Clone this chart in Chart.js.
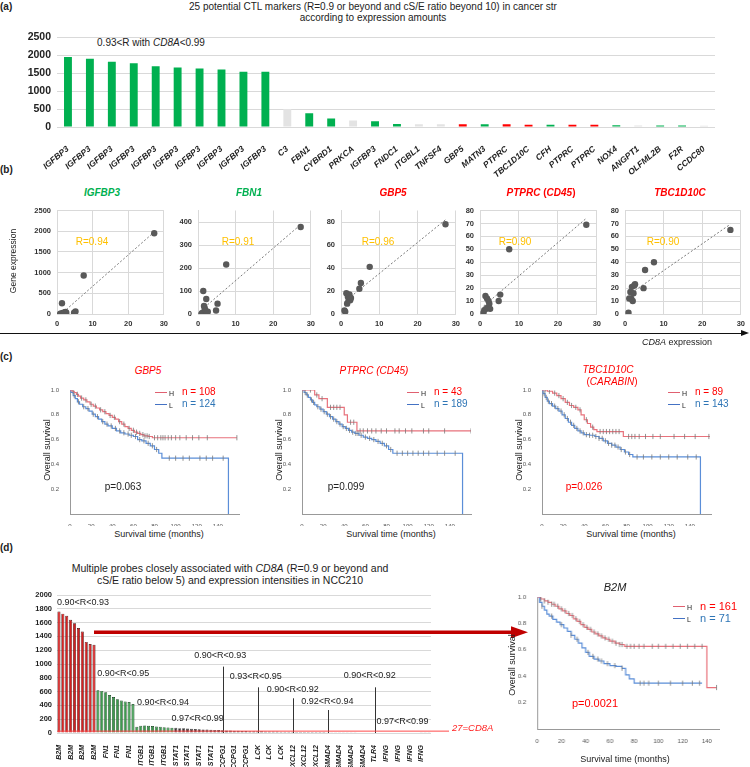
<!DOCTYPE html>
<html>
<head>
<meta charset="utf-8">
<title>CTL markers and CD8A</title>
<script src="https://cdn.jsdelivr.net/npm/chart.js@4.4.1/dist/chart.umd.min.js"></script>
<style>
  body { margin: 0; background: #fff; }
  #fig { position: relative; width: 750px; height: 767px; overflow: hidden;
         font-family: "Liberation Sans", Arial, sans-serif; color: #222; }
  #fig canvas { position: absolute; }
  .t { position: absolute; white-space: nowrap; line-height: 1; }
  .b { font-weight: bold; }
  .i { font-style: italic; }
  .red { color: #ff0000; }
  .grn { color: #00b050; }
  .blu { color: #2e75b6; }
</style>
</head>
<body>
<div id="fig"></div>
<script>
// ---------- (a) potential CTL markers ----------
const aGenes = ["IGFBP3", "IGFBP3", "IGFBP3", "IGFBP3", "IGFBP3", "IGFBP3", "IGFBP3", "IGFBP3", "IGFBP3", "IGFBP3",
  "C3", "FBN1", "CYBRD1", "PRKCA", "IGFBP3", "FNDC1", "ITGBL1", "TNFSF4", "GBP5", "MATN3",
  "PTPRC", "TBC1D10C", "CFH", "PTPRC", "PTPRC", "NOX4", "ANGPT1", "OLFML2B", "F2R", "CCDC80"];
const aValues = [1950, 1900, 1820, 1780, 1690, 1660, 1630, 1600, 1540, 1540,
  500, 380, 240, 180, 160, 85, 80, 75, 80, 75,
  80, 65, 60, 60, 60, 50, 40, 45, 45, 35];
const aRedGenes = ["GBP5", "PTPRC", "TBC1D10C"];
const aGreyGenes = ["C3", "PRKCA", "ITGBL1", "TNFSF4", "ANGPT1", "CCDC80"];

// ---------- (b) gene expression vs CD8A ----------
const bGenes = ["IGFBP3", "FBN1", "GBP5", "PTPRC", "TBC1D10C"];
const bCd8a = [0.9, 1.1, 1.4, 1.6, 1.8, 2.0, 2.2, 2.4, 2.6, 4.8, 5.2, 7.5, 27.3];
const bIGFBP3 = [10, 5, 260, 20, 30, 25, 40, 50, 30, 30, 60, 930, 1950];
const bFBN1 = [0, 5, 100, 35, 25, 15, 65, 5, 10, 15, 45, 215, 378];
const bGBP5 = [3, 2, 18, 9, 15, 12, 17, 12, 14, 22, 27, 41, 78];
const bPTPRC = [1, 3, 14, 4, 12, 5, 10, 8, 4, 10, 15, 50, 69];
const bTBC1D10C = [1, 12, 17, 12, 21, 10, 16, 22, 23, 20, 34, 40, 65];
const bYMax = [2500, 450, 90, 80, 80];
const bYStep = [500, 50, 10, 10, 10];
const bR = ["0.94", "0.91", "0.96", "0.90", "0.90"];

// ---------- (c) Kaplan-Meier, high (H) vs low (L) ----------
const gbp5H_t = [0, 2, 4, 6, 8, 10, 13, 16, 19, 22, 25, 28, 31, 34, 37, 40, 43, 46, 49, 52, 55, 58, 61, 64, 67, 70, 74, 78];
const gbp5H_s = [1, 0.99, 0.98, 0.965, 0.95, 0.935, 0.92, 0.905, 0.885, 0.87, 0.855, 0.84, 0.825, 0.81, 0.795, 0.78, 0.765, 0.745, 0.725, 0.705, 0.69, 0.675, 0.66, 0.65, 0.64, 0.63, 0.625, 0.615];
const gbp5H_cens = [3, 7, 11, 15, 20, 24, 29, 33, 38, 42, 47, 51, 56, 60, 63, 66, 69, 71, 73, 75, 80, 83, 86, 88, 90, 93, 96, 100, 104, 110, 116, 122, 130, 158];
const gbp5L_t = [0, 1, 3, 5, 7, 9, 12, 15, 18, 21, 24, 27, 30, 33, 36, 40, 44, 48, 52, 56, 60, 64, 68, 72, 76, 80, 84, 87, 150];
const gbp5L_s = [1, 0.98, 0.955, 0.93, 0.905, 0.885, 0.865, 0.85, 0.83, 0.805, 0.785, 0.765, 0.745, 0.725, 0.71, 0.69, 0.67, 0.655, 0.645, 0.635, 0.625, 0.6, 0.59, 0.57, 0.55, 0.52, 0.49, 0.45, 0];
const gbp5L_cens = [4, 8, 13, 17, 22, 26, 31, 35, 39, 43, 47, 51, 55, 58, 62, 66, 70, 74, 78, 82, 94, 100, 107, 113, 123, 129, 135, 145];

const ptprcH_t = [0, 12, 16, 24, 40, 43, 52];
const ptprcH_s = [1, 0.96, 0.93, 0.86, 0.8, 0.74, 0.67];
const ptprcH_cens = [8, 14, 19, 27, 30, 33, 36, 46, 49, 55, 58, 62, 66, 70, 75, 80, 88, 92, 98, 104, 115, 120, 135, 160];
const ptprcL_t = [0, 2, 4, 6, 8, 10, 12, 14, 17, 20, 23, 26, 29, 32, 35, 38, 41, 44, 47, 50, 54, 58, 62, 66, 70, 74, 78, 82, 86, 152];
const ptprcL_s = [1, 0.98, 0.96, 0.94, 0.92, 0.9, 0.88, 0.865, 0.845, 0.825, 0.805, 0.785, 0.765, 0.745, 0.725, 0.705, 0.69, 0.675, 0.66, 0.65, 0.635, 0.62, 0.61, 0.6, 0.585, 0.57, 0.55, 0.52, 0.49, 0];
const ptprcL_cens = [3, 5, 9, 11, 15, 18, 21, 24, 27, 30, 33, 36, 39, 42, 45, 48, 51, 53, 56, 60, 64, 68, 72, 76, 80, 84, 90, 95, 100, 105, 110, 115, 120, 128, 135, 145];

const tbcH_t = [0, 5, 10, 14, 18, 22, 26, 30, 34, 37, 40, 43, 46, 49, 52, 77];
const tbcH_s = [1, 0.99, 0.975, 0.955, 0.93, 0.9, 0.875, 0.86, 0.84, 0.8, 0.76, 0.73, 0.7, 0.68, 0.665, 0.625];
const tbcH_cens = [3, 7, 12, 16, 20, 24, 28, 32, 36, 42, 48, 55, 58, 61, 64, 67, 70, 73, 82, 85, 88, 92, 98, 105, 112, 125, 135, 145, 158];
const tbcL_t = [0, 1, 3, 5, 7, 10, 13, 16, 19, 22, 25, 28, 31, 34, 37, 40, 45, 50, 54, 58, 62, 66, 70, 74, 78, 82, 86, 150];
const tbcL_s = [1, 0.97, 0.94, 0.91, 0.89, 0.87, 0.85, 0.83, 0.8, 0.77, 0.74, 0.715, 0.69, 0.67, 0.655, 0.64, 0.635, 0.625, 0.61, 0.59, 0.57, 0.555, 0.54, 0.52, 0.5, 0.48, 0.46, 0];
const tbcL_cens = [2, 4, 6, 9, 12, 15, 18, 21, 24, 27, 30, 33, 36, 39, 42, 45, 48, 51, 54, 57, 60, 63, 66, 69, 72, 75, 79, 83, 90, 96, 104, 112, 120, 128, 138, 146];

// ---------- (d) probes associated with CD8A ----------
const dGenes = ["B2M", "FN1", "ITGB1", "STAT1", "CCPG1", "LCK", "CXCL12", "SMAD4", "TLR4", "IFNG"];
const dCounts = [10, 10, 10, 12, 9, 9, 9, 12, 3, 12];
const dRanges = ["0.90<R<0.93", "0.90<R<0.95", "0.90<R<0.94", "0.97<R<0.99", "0.90<R<0.93",
  "0.93<R<0.95", "0.90<R<0.92", "0.92<R<0.94", "0.90<R<0.92", "0.97<R<0.99"];
const dValues = [
  1760, 1730, 1700, 1640, 1590, 1520, 1470, 1320, 1290, 1280,
  620, 610, 590, 550, 520, 490, 470, 455, 450, 420,
  90, 105, 110, 105, 100, 95, 90, 85, 80, 75,
  75, 70, 68, 65, 60, 58, 55, 52, 50, 48, 45, 42,
  40, 38, 36, 34, 32, 30, 28, 27, 26,
  25, 24, 23, 22, 21, 20, 19, 18, 18,
  17, 16, 16, 15, 15, 14, 14, 13, 13,
  12, 12, 11, 11, 11, 10, 10, 10, 9, 9, 9, 9,
  8, 8, 8,
  8, 7, 7, 7, 7, 6, 6, 6, 6, 5, 5, 5];
const dCd8aLevel = 27;

const b2mH_t = [0, 3, 6, 9, 12, 15, 18, 21, 24, 27, 30, 33, 36, 39, 42, 45, 48, 51, 54, 57, 60, 64, 68, 72, 140];
const b2mH_s = [1, 0.985, 0.97, 0.96, 0.945, 0.93, 0.91, 0.895, 0.875, 0.86, 0.835, 0.815, 0.79, 0.77, 0.755, 0.735, 0.72, 0.705, 0.69, 0.68, 0.665, 0.65, 0.64, 0.626, 0.314];
const b2mH_cens = [3, 6, 9, 12, 14, 17, 20, 23, 26, 29, 32, 35, 38, 41, 44, 47, 50, 53, 56, 59, 62, 65, 68, 70, 74, 77, 80, 84, 88, 95, 100, 106, 112, 118, 124, 130, 136, 148];
const b2mL_t = [0, 2, 4, 6, 8, 10, 13, 16, 19, 22, 25, 28, 31, 34, 37, 40, 43, 47, 51, 55, 60, 65, 70, 73, 76, 80];
const b2mL_s = [1, 0.96, 0.93, 0.9, 0.87, 0.855, 0.83, 0.81, 0.79, 0.765, 0.74, 0.71, 0.68, 0.65, 0.615, 0.58, 0.55, 0.53, 0.515, 0.495, 0.48, 0.475, 0.46, 0.41, 0.38, 0.347];
const b2mL_cens = [4, 12, 20, 28, 33, 42, 46, 50, 53, 58, 64, 70, 85, 88, 92, 100, 110, 120, 128, 134];

// ---------- drawing ----------
const FONT = '"Liberation Sans", Arial, sans-serif';
Chart.defaults.font.family = FONT;
Chart.defaults.color = "#222";
Chart.defaults.animation = false;
Chart.defaults.responsive = false;
Chart.defaults.plugins.legend.display = false;
Chart.defaults.plugins.tooltip.enabled = false;

const fig = document.getElementById("fig");
const plain = function (v) { return String(v); };

function placeCanvas(cv) {
  const c = document.createElement("canvas");
  c.width = cv.w; c.height = cv.h;
  c.style.left = cv.x + "px"; c.style.top = cv.y + "px";
  c.style.width = cv.w + "px"; c.style.height = cv.h + "px";
  fig.appendChild(c);
  return c;
}

// pins the plot area to page coordinates
function area(cv, plot) {
  return {
    layout: { padding: { left: 0, top: plot.t - cv.y, right: cv.x + cv.w - plot.r, bottom: 0 } },
    yFit: function (s) { s.width = plot.l - cv.x; },
    xFit: function (s) { s.height = cv.y + cv.h - plot.b; }
  };
}

function put(html, x, y, cls, anchor, rot) {
  const d = document.createElement("div");
  d.className = "t " + (cls || "");
  d.innerHTML = html;
  d.style.left = x + "px";
  d.style.top = y + "px";
  const tx = anchor === "l" ? "0" : anchor === "r" ? "-100%" : "-50%";
  d.style.transform = "translate(" + tx + ",-50%)" + (rot ? " rotate(-90deg)" : "");
  fig.appendChild(d);
  return d;
}

function hline(x1, x2, y, color, w) {
  const d = document.createElement("div");
  d.style.cssText = "position:absolute;left:" + x1 + "px;top:" + y + "px;width:" + (x2 - x1) +
    "px;border-top:" + w + "px solid " + color;
  fig.appendChild(d);
}

function fs(el, size) { el.style.fontSize = size + "px"; return el; }

// panel labels
fs(put("(a)", 0, 7, "b", "l"), 10);
fs(put("(b)", 0, 170, "b", "l"), 10);
fs(put("(c)", 0, 357, "b", "l"), 10);
fs(put("(d)", 0, 548, "b", "l"), 10);

// ----- (a) -----
fs(put("25 potential CTL markers (R=0.9 or beyond and cS/E ratio beyond 10) in cancer str", 373, 7), 10);
fs(put("according to expression amounts", 373, 18), 10);
fs(put('0.93&lt;R with <span class="i">CD8A</span>&lt;0.99', 151, 43), 10);

function aColor(g) {
  if (aRedGenes.indexOf(g) >= 0) return "#ff0000";
  if (aGreyGenes.indexOf(g) >= 0) return "#e3e3e3";
  return "#00b050";
}

(function drawA() {
  const cv = { x: 0, y: 25, w: 750, h: 160 };
  const plot = { l: 57, t: 33, r: 715, b: 127 };
  const f = area(cv, plot);
  new Chart(placeCanvas(cv), {
    type: "bar",
    data: {
      labels: aGenes,
      datasets: [{ data: aValues, backgroundColor: aGenes.map(aColor), barPercentage: 0.36, categoryPercentage: 1 }]
    },
    options: {
      layout: f.layout,
      scales: {
        x: {
          grid: { display: false }, border: { display: false }, afterFit: f.xFit,
          ticks: { autoSkip: false, minRotation: 40, maxRotation: 40, padding: 9, color: "#222",
                   font: { size: 8.5, weight: "bold", style: "italic" } }
        },
        y: {
          min: 0, max: 2500, afterFit: f.yFit,
          ticks: { stepSize: 500, padding: 6, color: "#222", font: { size: 10.5, weight: "bold" }, callback: plain },
          grid: { color: "#d9d9d9", drawTicks: false }, border: { display: false }
        }
      }
    }
  });
})();

// ----- (b) -----
const bSeries = [bIGFBP3, bFBN1, bGBP5, bPTPRC, bTBC1D10C];
const bXRange = [[57, 165], [198, 312], [341, 457], [480, 598], [625, 742]];
const bTitleX = [102, 249, 393, 541, 680];
const bRX = [92, 238, 378, 515, 663];

function fitLine(xs, ys) {
  const n = xs.length;
  const mx = xs.reduce((a, b) => a + b, 0) / n;
  const my = ys.reduce((a, b) => a + b, 0) / n;
  let sxy = 0, sxx = 0;
  for (let i = 0; i < n; i++) { sxy += (xs[i] - mx) * (ys[i] - my); sxx += (xs[i] - mx) * (xs[i] - mx); }
  const k = sxy / sxx;
  const x0 = Math.min.apply(null, xs), x1 = Math.max.apply(null, xs);
  return [{ x: x0, y: my + k * (x0 - mx) }, { x: x1, y: my + k * (x1 - mx) }];
}

bGenes.forEach(function (g, i) {
  const plot = { l: bXRange[i][0], r: bXRange[i][1], t: 209, b: 314 };
  const cv = { x: plot.l - 42, y: 200, w: plot.r - plot.l + 42 + 8, h: 132 };
  const f = area(cv, plot);
  const pts = bCd8a.map(function (x, k) { return { x: x, y: bSeries[i][k] }; });
  new Chart(placeCanvas(cv), {
    type: "scatter",
    data: {
      datasets: [
        { data: pts, backgroundColor: "#595959", borderWidth: 0, pointRadius: 3.2 },
        { data: fitLine(bCd8a, bSeries[i]), showLine: true, borderColor: "#7a7a7a", borderWidth: 1,
          borderDash: [2, 2], pointRadius: 0 }
      ]
    },
    options: {
      layout: f.layout,
      scales: {
        x: { min: 0, max: 30, afterFit: f.xFit,
             ticks: { stepSize: 10, padding: 5, color: "#333", font: { size: 7.5, weight: "bold" } },
             grid: { color: "#d9d9d9", drawTicks: false }, border: { color: "#d9d9d9" } },
        y: { min: 0, max: bYMax[i], afterFit: f.yFit,
             ticks: { stepSize: bYStep[i], padding: 6, color: "#333", font: { size: 7.5, weight: "bold" }, callback: plain },
             grid: { color: "#d9d9d9", drawTicks: false }, border: { color: "#d9d9d9" } }
      }
    }
  });
  const colorCls = i < 2 ? "grn" : "red";
  const title = g === "PTPRC" ? 'PTPRC <span style="font-style:normal">(</span>CD45<span style="font-style:normal">)</span>' : g;
  fs(put(title, bTitleX[i], 193, "b i " + colorCls), 10);
  const r = fs(put("R=" + bR[i], bRX[i], 242), 10);
  r.style.color = "#ffc000";
});
fs(put("Gene expression", 13, 261, "", "c", true), 8.5);

// CD8A axis arrow
hline(0, 742, 332.5, "#111", 1.2);
(function () {
  const d = document.createElement("div");
  d.style.cssText = "position:absolute;left:741px;top:329.5px;width:0;height:0;" +
    "border-left:8px solid #111;border-top:3.5px solid transparent;border-bottom:3.5px solid transparent";
  fig.appendChild(d);
})();
fs(put('<span class="i">CD8A</span> expression', 677, 342), 9);

// ----- KM helpers -----
function stepAt(ts, ss, t) {
  let v = ss[0];
  for (let i = 0; i < ts.length; i++) { if (ts[i] <= t) v = ss[i]; }
  return v;
}
function kmLine(ts, ss, end) {
  const pts = ts.map(function (t, i) { return { x: t, y: ss[i] }; });
  if (end > ts[ts.length - 1]) pts.push({ x: end, y: ss[ss.length - 1] });
  return pts;
}
function kmCens(ts, ss, cens) {
  return cens.map(function (t) { return { x: t, y: stepAt(ts, ss, t) }; });
}

const H_COL = "#e8727c", L_COL = "#5b8ed8";

function kmChart(cv, plot, tMax, H, L) {
  const f = area(cv, plot);
  new Chart(placeCanvas(cv), {
    type: "scatter",
    data: {
      datasets: [
        { data: kmCens(H.t, H.s, H.cens), pointStyle: "line", rotation: 90, pointRadius: 2.6,
          borderColor: "#777", borderWidth: 0.8 },
        { data: kmCens(L.t, L.s, L.cens), pointStyle: "line", rotation: 90, pointRadius: 2.6,
          borderColor: "#777", borderWidth: 0.8 },
        { data: kmLine(H.t, H.s, H.end), showLine: true, stepped: true, borderColor: H_COL,
          borderWidth: 1.2, pointRadius: 0 },
        { data: kmLine(L.t, L.s, L.end), showLine: true, stepped: true, borderColor: L_COL,
          borderWidth: 1.2, pointRadius: 0 }
      ]
    },
    options: {
      layout: f.layout,
      scales: {
        x: { min: 0, max: tMax, afterFit: f.xFit, grid: { display: false }, border: { color: "#999" },
             ticks: { stepSize: 20, includeBounds: false, padding: 1, color: "#555", font: { size: 6 },
                      callback: function (v) { return v > 140 ? "" : v; } } },
        y: { min: 0, max: 1, afterFit: f.yFit, grid: { display: false }, border: { color: "#999" },
             ticks: { stepSize: 0.2, padding: 3, color: "#555", font: { size: 6 },
                      callback: function (v) { return v === 0 ? "" : v.toFixed(1); } } }
      }
    }
  });
}

function kmLegend(x, y, nH, nL, size) {
  hline(x, x + 12, y, "#e06070", 1.3);
  hline(x, x + 12, y + 12, "#4472c4", 1.3);
  fs(put("H", x + 14, y + 0.5, "", "l"), 7);
  fs(put("L", x + 14, y + 12.5, "", "l"), 7);
  fs(put("n = " + nH, x + 27, y, "red", "l"), size);
  fs(put("n = " + nL, x + 27, y + 12, "blu", "l"), size);
}

// ----- (c) -----
const cOrigins = [70, 302, 542];
const cCurves = [
  [{ t: gbp5H_t, s: gbp5H_s, cens: gbp5H_cens, end: 158 }, { t: gbp5L_t, s: gbp5L_s, cens: gbp5L_cens, end: 150 }],
  [{ t: ptprcH_t, s: ptprcH_s, cens: ptprcH_cens, end: 160 }, { t: ptprcL_t, s: ptprcL_s, cens: ptprcL_cens, end: 152 }],
  [{ t: tbcH_t, s: tbcH_s, cens: tbcH_cens, end: 159 }, { t: tbcL_t, s: tbcL_s, cens: tbcL_cens, end: 150 }]
];
cOrigins.forEach(function (x0, i) {
  const plot = { l: x0, r: x0 + 169, t: 390, b: 514 };
  const cv = { x: x0 - 40, y: 380, w: 40 + 169 + 8, h: 146 };
  kmChart(cv, plot, 160, cCurves[i][0], cCurves[i][1]);
  fs(put("Overall survival", x0 - 23, 450, "", "c", true), 9);
  fs(put("Survival time (months)", x0 + 89, 534), 9);
});
fs(put("GBP5", 148, 371, "i red"), 10);
fs(put('PTPRC (<span>CD45</span>)', 374, 371, "i red"), 10);
fs(put("TBC1D10C", 608, 370, "i red"), 10);
fs(put('(<span class="i">CARABIN</span>)', 612, 382, "red"), 10);
kmLegend(155, 392, 108, 124, 10);
kmLegend(407, 392, 43, 189, 10);
kmLegend(668, 392, 89, 143, 10);
fs(put("p=0.063", 123, 487), 10);
fs(put("p=0.099", 346, 487), 10);
fs(put("p=0.026", 584, 487, "red"), 10);

// ----- (d) bar chart -----
fs(put('Multiple probes closely associated with <span class="i">CD8A</span> (R=0.9 or beyond and', 230, 568), 10.5);
fs(put("cS/E ratio below 5) and expression intensities in NCC210", 230, 580), 10.5);

const dProbes = [], dGroup = [];
dGenes.forEach(function (g, gi) {
  for (let k = 0; k < dCounts[gi]; k++) { dProbes.push(g); dGroup.push(gi); }
});
function dFill(gi) { return gi === 0 ? "#d42020" : gi < 3 ? "#3e9b4f" : "#3a3a3a"; }
function dEdge(gi) { return gi === 0 ? "#3b0a0a" : gi < 3 ? "#133d1c" : "#3a3a3a"; }

// where each range note sits (index = bar position, v = height in data units)
const dNotes = [
  { g: 0, left: true, v: 1884 },
  { g: 1, at: 16.5, v: 863 },
  { g: 2, at: 26.7, v: 447 },
  { g: 3, at: 35.6, v: 205 },
  { g: 4, at: 41.4, v: 1118, line: 42, top: 962 },
  { g: 5, at: 50.5, v: 816, line: 51, top: 662 },
  { g: 6, at: 60, v: 632, line: 60, top: 503 },
  { g: 7, at: 68.9, v: 452, line: 69, top: 333 },
  { g: 8, at: 79.8, v: 830, line: 81, top: 662 },
  { g: 9, at: 88.2, v: 166 }
];

const dOverlay = {
  id: "dOverlay",
  afterDatasetsDraw: function (chart) {
    const ctx = chart.ctx, ca = chart.chartArea, x = chart.scales.x, y = chart.scales.y;
    ctx.save();
    ctx.font = "9px " + FONT;
    ctx.fillStyle = "#222";
    ctx.textBaseline = "middle";
    dNotes.forEach(function (n) {
      const ty = y.getPixelForValue(n.v);
      if (n.left) { ctx.textAlign = "left"; ctx.fillText(dRanges[n.g], ca.left, ty); }
      else { ctx.textAlign = "center"; ctx.fillText(dRanges[n.g], x.getPixelForValue(n.at), ty); }
      if (n.line !== undefined) {
        const lx = Math.round(x.getPixelForValue(n.line)) + 0.5;
        ctx.strokeStyle = "#333"; ctx.lineWidth = 1;
        ctx.beginPath(); ctx.moveTo(lx, y.getPixelForValue(n.top)); ctx.lineTo(lx, y.getPixelForValue(0)); ctx.stroke();
      }
    });
    // CD8A level
    const y27 = y.getPixelForValue(dCd8aLevel);
    ctx.strokeStyle = "#ff4a4a"; ctx.lineWidth = 1;
    ctx.beginPath(); ctx.moveTo(ca.left, y27); ctx.lineTo(449, y27); ctx.stroke();
    ctx.fillStyle = "#ff2020"; ctx.font = "italic 9.5px " + FONT; ctx.textAlign = "left";
    ctx.fillText("27=CD8A", 452, y27 - 3);
    // red arrow
    const ay = y.getPixelForValue(1460), ax = x.getPixelForValue(9);
    ctx.strokeStyle = "#c00000"; ctx.fillStyle = "#c00000"; ctx.lineWidth = 3.5;
    ctx.beginPath(); ctx.moveTo(ax, ay); ctx.lineTo(513, ay); ctx.stroke();
    ctx.beginPath(); ctx.moveTo(511, ay - 6); ctx.lineTo(528, ay); ctx.lineTo(511, ay + 6); ctx.closePath(); ctx.fill();
    ctx.restore();
  }
};

(function drawD() {
  const cv = { x: 0, y: 585, w: 535, h: 182 };
  const plot = { l: 57, t: 595, r: 431, b: 733 };
  const f = area(cv, plot);
  new Chart(placeCanvas(cv), {
    type: "bar",
    data: {
      labels: dProbes,
      datasets: [{
        data: dValues,
        backgroundColor: dGroup.map(dFill),
        borderColor: dGroup.map(dEdge),
        borderWidth: 0.7,
        barPercentage: 0.78, categoryPercentage: 1
      }]
    },
    options: {
      layout: f.layout,
      scales: {
        x: { afterFit: f.xFit, grid: { display: false }, border: { display: false },
             ticks: { autoSkip: false, minRotation: 90, maxRotation: 90, padding: 4, color: "#222",
                      font: { size: 7, weight: "bold", style: "italic" },
                      callback: function (v, i) { return i % 3 === 0 ? dProbes[i] : ""; } } },
        y: { min: 0, max: 2000, afterFit: f.yFit, grid: { color: "#d9d9d9", drawTicks: false }, border: { display: false },
             ticks: { stepSize: 200, padding: 5, color: "#222", font: { size: 7.5, weight: "bold" }, callback: plain } }
      }
    },
    plugins: [dOverlay]
  });
})();

// ----- (d) B2M survival -----
(function drawB2M() {
  const plot = { l: 537, r: 537 + 181.5, t: 597, b: 729 };
  const cv = { x: 497, y: 585, w: 40 + 181.5 + 10, h: 165 };
  kmChart(cv, plot, 150,
    { t: b2mH_t, s: b2mH_s, cens: b2mH_cens, end: 148 },
    { t: b2mL_t, s: b2mL_s, cens: b2mL_cens, end: 136 });
  fs(put("B2M", 615, 587, "i"), 11);
  kmLegend(673, 606, 161, 71, 11);
  fs(put("p=0.0021", 595, 703, "red"), 11);
  fs(put("Overall survival", 512, 665, "", "c", true), 9);
  fs(put("Survival time (months)", 625, 759), 9);
})();
</script>
</body>
</html>
